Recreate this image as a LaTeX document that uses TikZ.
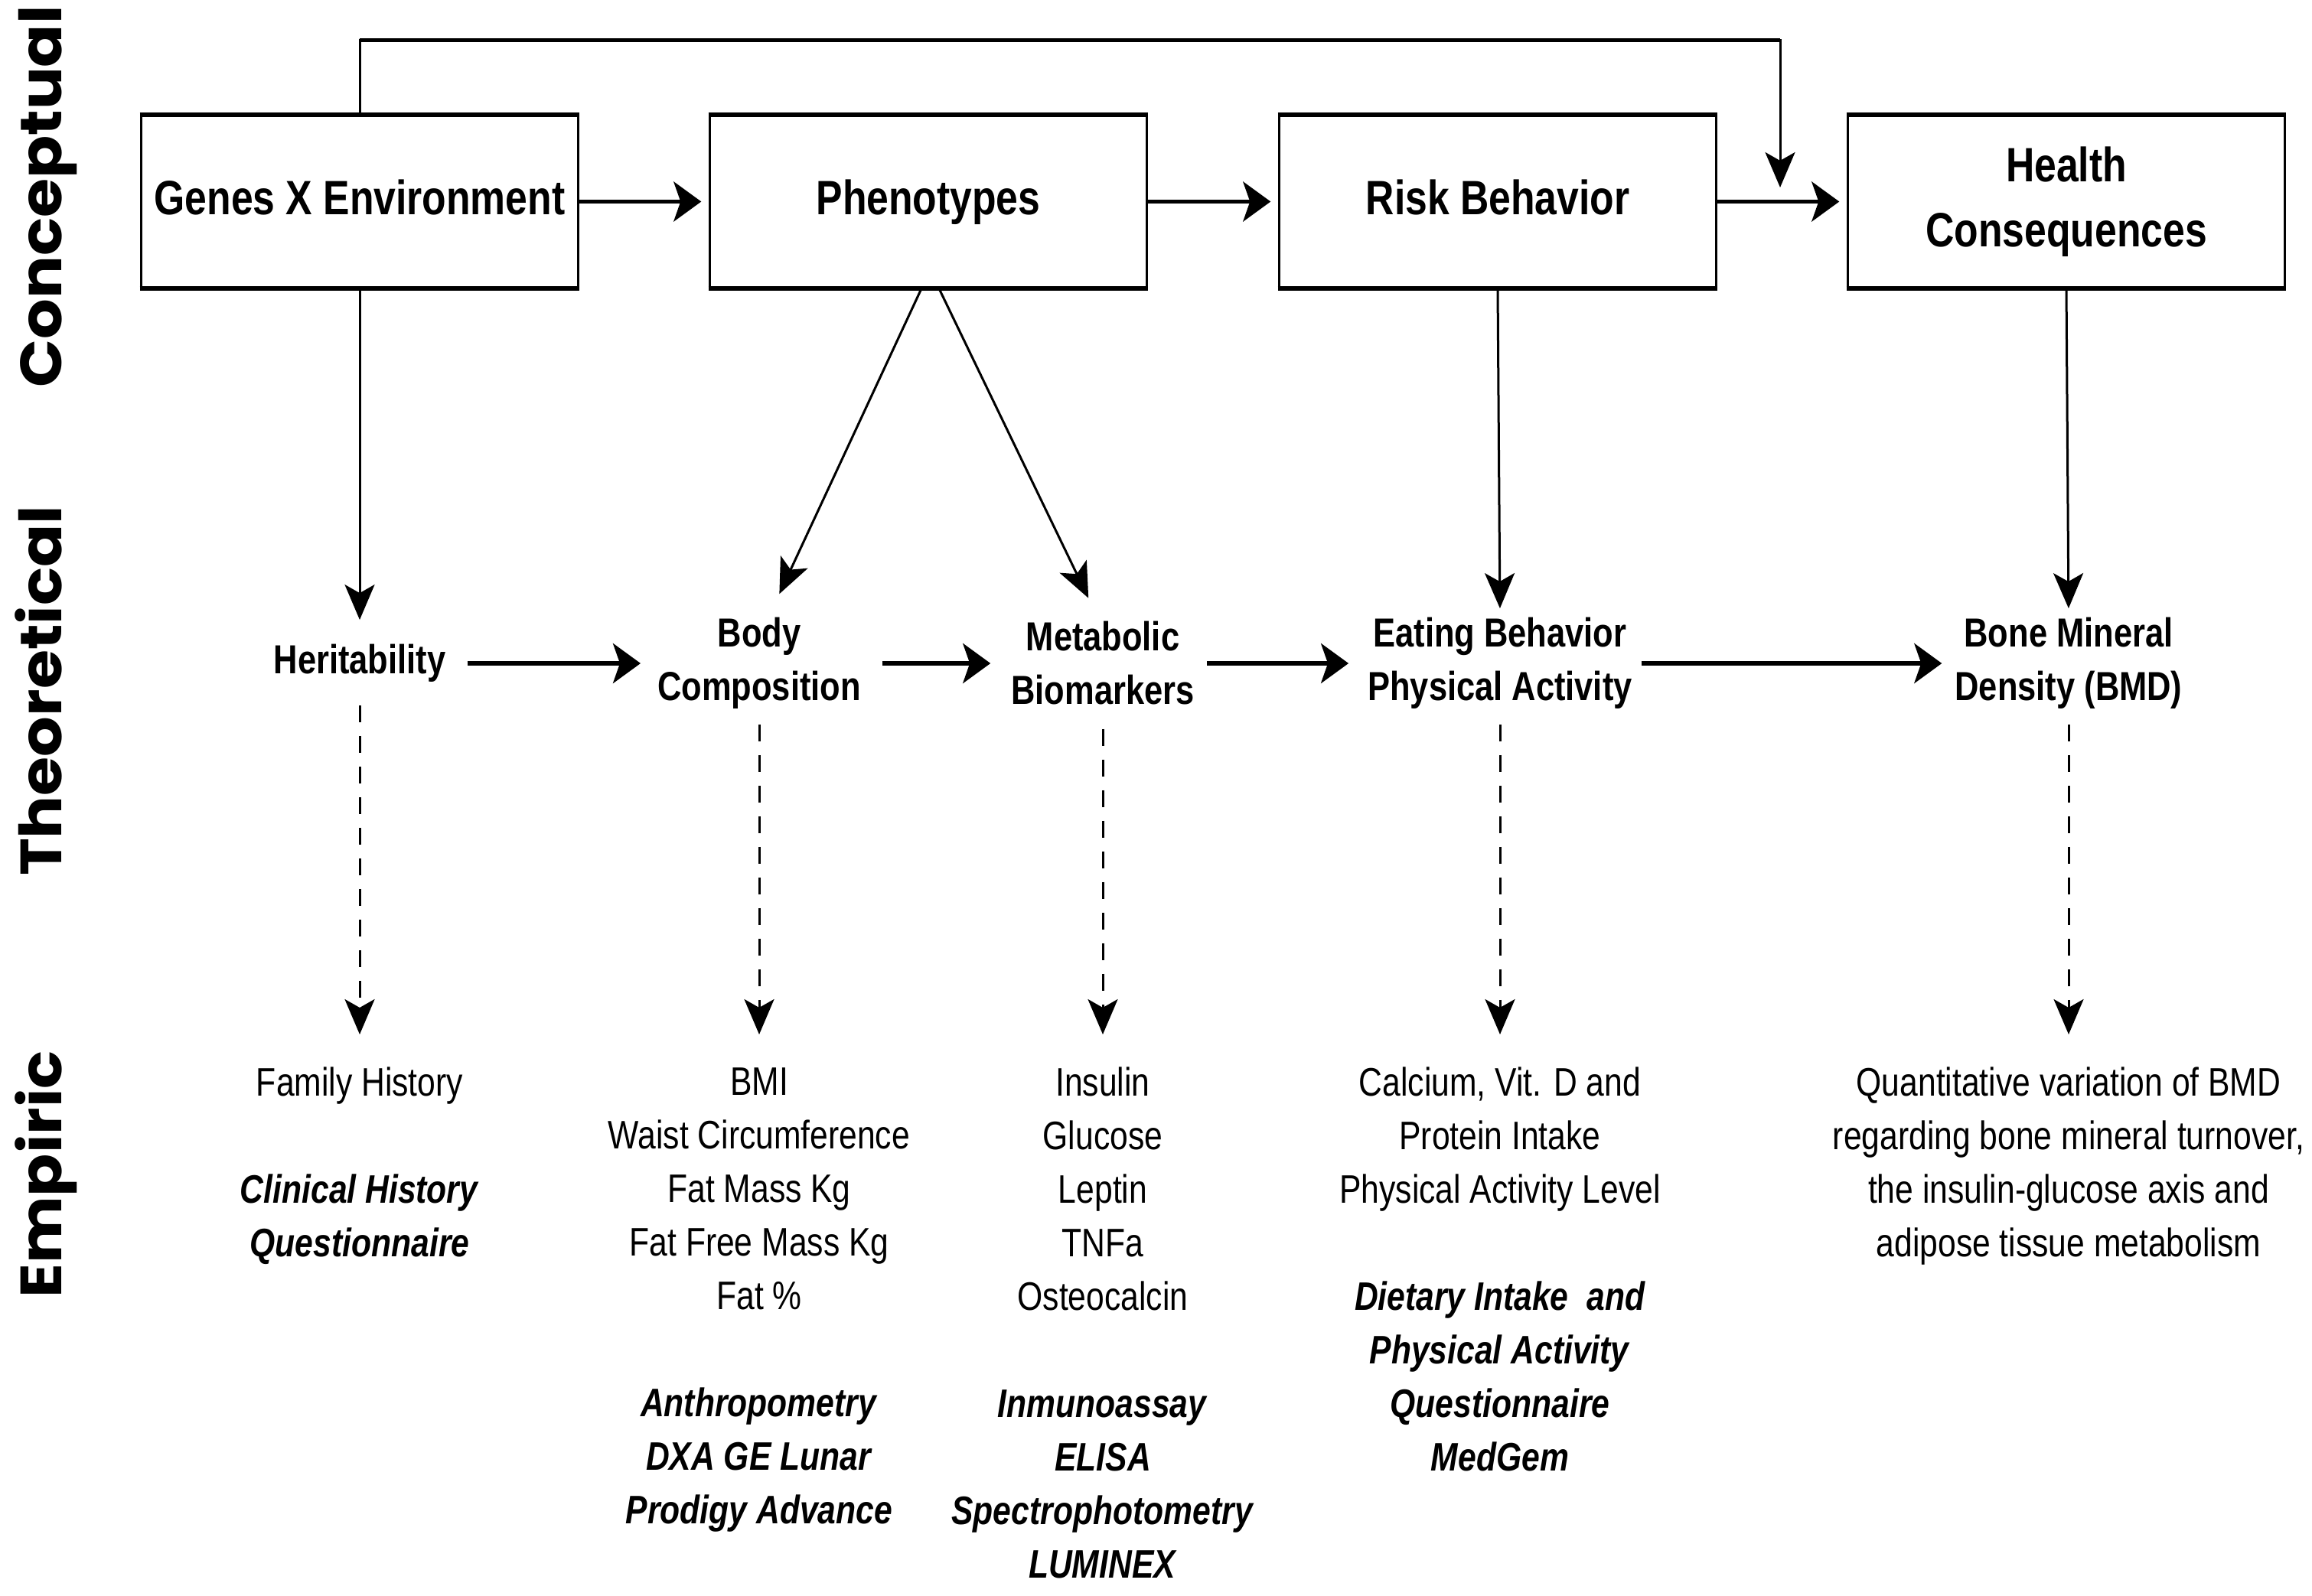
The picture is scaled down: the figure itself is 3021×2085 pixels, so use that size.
\documentclass[tikz,border=0pt]{standalone}
\usepackage{fontspec}
\setmainfont{Liberation Sans}[FakeStretch=0.82]
\newfontfamily\sidefont{Poppins}[FakeStretch=1.09]
\usetikzlibrary{arrows.meta}
\newcommand\bi[1]{\textbf{\textit{#1}}}
\tikzset{
  box/.style={draw=none, minimum width=571pt, minimum height=227pt, inner sep=0pt, align=center,
    font=\fontsize{63}{85}\selectfont\bfseries},
  boxone/.style={box, text height=46pt, text depth=13pt},
  theo/.style={align=center, inner sep=0pt, font=\fontsize{53}{70}\selectfont\bfseries},
  emp/.style={align=center, inner sep=0pt, anchor=north, font=\fontsize{52}{70}\selectfont},
  side/.style={rotate=90, anchor=base, inner sep=0pt, font=\sidefont\bfseries\fontsize{76}{80}\selectfont},
  harr/.style={-{Stealth[length=36pt,width=52pt,inset=9pt]}, line width=5.5pt},
  varr/.style={-{Stealth[length=46pt,width=39pt,inset=11pt]}, line width=3pt},
  darr/.style={varr, dash pattern=on 22pt off 18pt},
}
\begin{document}
\begin{tikzpicture}[x=1pt,y=-1pt]
\useasboundingbox (0,0) rectangle (3021,2085);

% side labels
\node[side] (lc) at (80,257) {Conceptual};
\node[side] (lt) at (80,903) {Theoretical};
\node[side] (le) at (80,1535) {Empiric};

% conceptual boxes
\node[boxone] (g) at (470,263.5) {Genes X Environment};
\node[boxone] (p) at (1213,263.5) {Phenotypes};
\node[boxone] (r) at (1957,263.5) {Risk Behavior};
\node[box] (h) at (2700,263.5) {Health\\Consequences};
\foreach \n in {g,p,r,h}{
  \draw[line width=3.5pt] (\n.north west) rectangle (\n.south east);
  \draw[line width=6pt, shorten <=-1.75pt, shorten >=-1.75pt] (\n.north west) -- (\n.north east);
  \draw[line width=6pt, shorten <=-1.75pt, shorten >=-1.75pt] (\n.south west) -- (\n.south east);
}
\draw[harr, shorten >=11pt] (g.east) -- (p.west);
\draw[harr, shorten >=11pt] (p.east) -- (r.west);
\draw[harr, shorten >=11pt] (r.east) -- (h.west);

% feedback line
\coordinate (fbtop) at (2326,52);
\coordinate (fb) at (2326,245);
\draw[varr] (g.north) |- (fbtop) -- (fb);
\draw[line width=5pt] (g.north |- fbtop) -- (fbtop);

% theoretical nodes
\node[theo] (her) at (470,867) {Heritability};
\node[theo] (bod) at (992,867) {Body\\Composition};
\node[theo] (met) at (1441,867) {Metabolic\\Biomarkers};
\node[theo] (eat) at (1960,867) {Eating Behavior\\Physical Activity};
\node[theo] (bmd) at (2703,867) {Bone Mineral\\Density (BMD)};

\draw[varr, shorten >=32pt] (g.south) -- (her.north);
\draw[varr, shorten >=34pt] ([xshift=-9pt]p.south) -- ([xshift=12pt]bod.north);
\draw[varr, shorten >=34pt] ([xshift=14pt]p.south) -- ([xshift=-4pt]met.north);
\draw[varr, shorten >=12pt] (r.south) -- (eat.north);
\draw[varr, shorten >=12pt] (h.south) -- (bmd.north);

\draw[harr, shorten <=28pt, shorten >=22pt] (her.east) -- (bod.west);
\draw[harr, shorten <=28pt, shorten >=27pt] (bod.east) -- (met.west);
\draw[harr, shorten <=16pt, shorten >=25pt] (met.east) -- (eat.west);
\draw[harr, shorten <=12pt, shorten >=17pt] (eat.east) -- (bmd.west);

% empiric nodes
\node[emp] (herE) at (470,1395) {Family History\\[70pt]\bi{Clinical History}\\\bi{Questionnaire}};
\node[emp] (bodE) at (992,1395) {BMI\\Waist Circumference\\Fat Mass Kg\\Fat Free Mass Kg\\Fat \%\\[70pt]\bi{Anthropometry}\\\bi{DXA GE Lunar}\\\bi{Prodigy Advance}};
\node[emp] (metE) at (1441,1395) {Insulin\\Glucose\\Leptin\\TNFa\\Osteocalcin\\[70pt]\bi{Inmunoassay}\\\bi{ELISA}\\\bi{Spectrophotometry}\\\bi{LUMINEX}};
\node[emp] (eatE) at (1960,1395) {Calcium, Vit. D and\\Protein Intake\\Physical Activity Level\\[70pt]\bi{Dietary Intake\ \ and}\\\bi{Physical Activity}\\\bi{Questionnaire}\\\bi{MedGem}};
\node[emp] (bmdE) at (2703,1395) {Quantitative variation of BMD\\regarding bone mineral turnover,\\the insulin-glucose axis and\\adipose tissue metabolism};

\draw[darr, shorten <=30pt, shorten >=43pt] (her.south) -- (herE.north);
\draw[darr, shorten <=20pt, shorten >=43pt] (bod.south) -- (bodE.north);
\draw[darr, shorten <=31pt, shorten >=43pt] (met.south) -- (metE.north);
\draw[darr, shorten <=20pt, shorten >=43pt] (eat.south) -- (eatE.north);
\draw[darr, shorten <=20pt, shorten >=43pt] (bmd.south) -- (bmdE.north);
\end{tikzpicture}
\end{document}
